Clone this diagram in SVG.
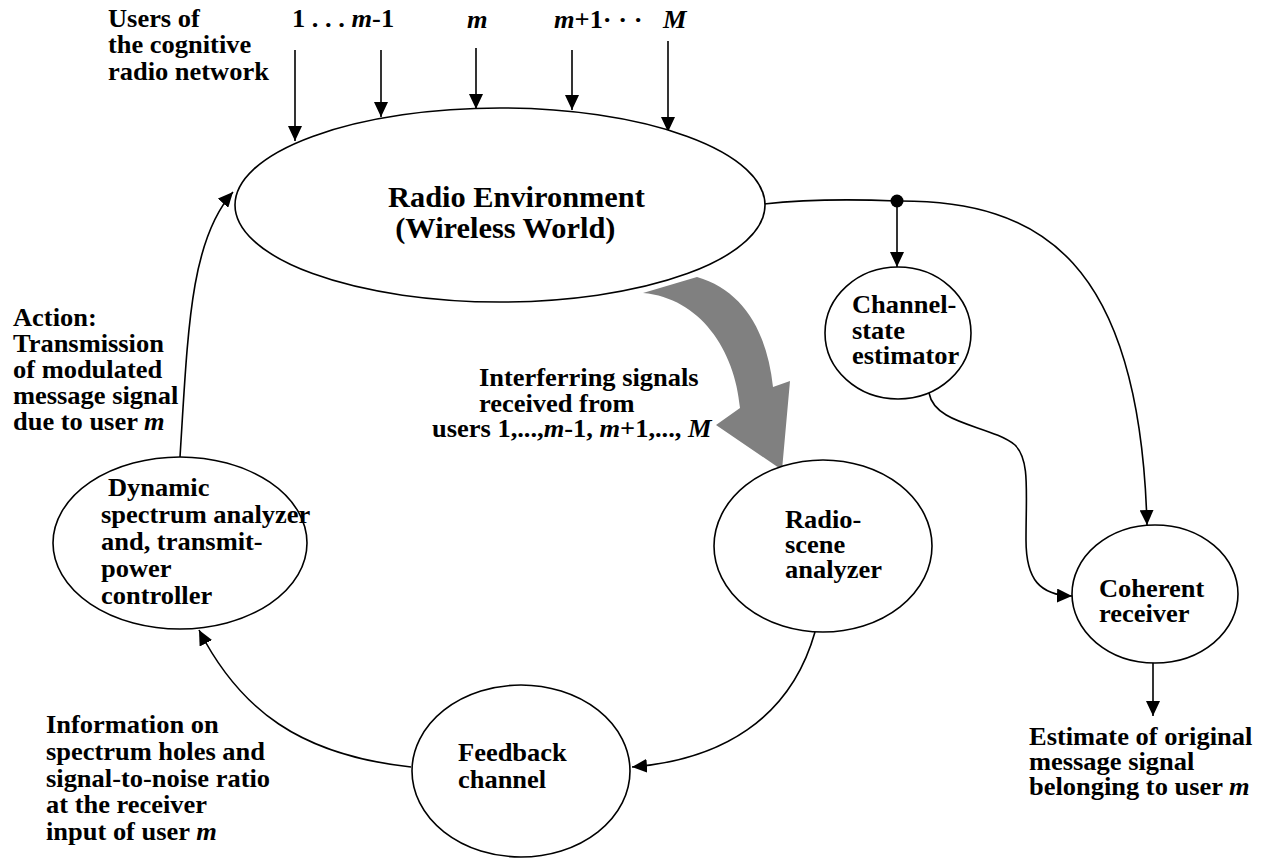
<svg xmlns="http://www.w3.org/2000/svg" width="1271" height="860" viewBox="0 0 1271 860">
<defs>
<style>
.t{font-family:"Liberation Serif","Times New Roman",serif;font-weight:bold;font-size:24.5px;fill:#000}
.big{font-size:29.5px}
.i{font-style:italic}
.ln{fill:none;stroke:#000;stroke-width:1.6}
.nd{fill:#fff;stroke:#000;stroke-width:1.6}
</style>
<marker id="ah" markerUnits="userSpaceOnUse" markerWidth="15" markerHeight="14" refX="15" refY="7" orient="auto">
<path d="M0,0 L15,7 L0,14 Z" fill="#000"/>
</marker>
</defs>
<rect width="1271" height="860" fill="#fff"/>

<g id="labels">
<text class="t" transform="translate(108,27) scale(1.08,1)"><tspan x="0">Users of</tspan><tspan x="0" dy="26.5">the cognitive</tspan><tspan x="0" dy="26.5">radio network</tspan></text>
<text class="t" transform="translate(292,27) scale(1.08,1)">1 . . . <tspan class="i">m</tspan>-1</text>
<text class="t" transform="translate(467,28) scale(1.08,1)"><tspan class="i">m</tspan></text>
<text class="t" transform="translate(554,28) scale(1.08,1)"><tspan class="i">m</tspan>+1· · ·</text>
<text class="t" transform="translate(663,28) scale(1.08,1)"><tspan class="i">M</tspan></text>
<text class="t" transform="translate(13,326) scale(1.08,1)"><tspan x="0">Action:</tspan><tspan x="0" dy="26">Transmission</tspan><tspan x="0" dy="26">of modulated</tspan><tspan x="0" dy="26">message signal</tspan><tspan x="0" dy="26">due to user <tspan class="i">m</tspan></tspan></text>
<text class="t" transform="translate(479,386) scale(1.08,1)"><tspan x="0">Interferring signals</tspan><tspan x="0" dy="26.5">received from</tspan><tspan x="-43.5" dy="24.5">users 1,...,<tspan class="i">m</tspan>-1, <tspan class="i">m</tspan>+1,..., <tspan class="i">M</tspan></tspan></text>
<text class="t" transform="translate(46,733) scale(1.08,1)"><tspan x="0">Information on</tspan><tspan x="0" dy="26.8">spectrum holes and</tspan><tspan x="0" dy="26.8">signal-to-noise ratio</tspan><tspan x="0" dy="26.8">at the receiver</tspan><tspan x="0" dy="26.8">input of user <tspan class="i">m</tspan></tspan></text>
<text class="t" transform="translate(1029,745) scale(1.08,1)"><tspan x="0">Estimate of original</tspan><tspan x="0" dy="25">message signal</tspan><tspan x="0" dy="25">belonging to user <tspan class="i">m</tspan></tspan></text>
</g>

<g id="connectors">
<line class="ln" x1="295" y1="50" x2="295" y2="141" marker-end="url(#ah)"/>
<line class="ln" x1="381" y1="50" x2="381" y2="117" marker-end="url(#ah)"/>
<line class="ln" x1="476" y1="48" x2="476" y2="109" marker-end="url(#ah)"/>
<line class="ln" x1="572" y1="50" x2="572" y2="110" marker-end="url(#ah)"/>
<line class="ln" x1="668" y1="41" x2="668" y2="132" marker-end="url(#ah)"/>
<path class="ln" d="M180,457 C188,330 190,240 233,192" marker-end="url(#ah)"/>
<path class="ln" d="M411,767 C300,755 240,710 199,630" marker-end="url(#ah)"/>
<path class="ln" d="M815,632 C790,720 720,760 632,767" marker-end="url(#ah)"/>
<path class="ln" d="M764,204 C800,200 850,199 897,201"/>
<circle cx="897" cy="201" r="6.5" fill="#000"/>
<line class="ln" x1="897" y1="205" x2="897" y2="267" marker-end="url(#ah)"/>
<path class="ln" d="M897,201 C1040,200 1140,260 1147,525" marker-end="url(#ah)"/>
<path class="ln" d="M929,393 C935,425 990,425 1015,445 C1030,460 1026,490 1026,540 C1026,580 1040,595 1072,596" marker-end="url(#ah)"/>
<line class="ln" x1="1153" y1="663" x2="1153" y2="716" marker-end="url(#ah)"/>
<path d="M643,293 L697,277 C742,290 767,330 773,387 L790,381 L782,470 L716,425 L740,408 C735,350 700,298 643,293 Z" fill="#808080"/>
</g>

<g id="radio-environment">
<ellipse class="nd" cx="500" cy="205" rx="265" ry="97" fill="none"/>
<text class="t big" transform="translate(388,207) scale(1.03,1)"><tspan x="0">Radio Environment</tspan><tspan x="7" dy="31">(Wireless World)</tspan></text>
</g>

<g id="dynamic-spectrum-analyzer">
<ellipse class="nd" cx="180" cy="543" rx="127" ry="86" fill="none"/>
<text class="t" transform="translate(101,496) scale(1.08,1)"><tspan x="6.5">Dynamic</tspan><tspan x="0" dy="27">spectrum analyzer</tspan><tspan x="0" dy="27">and, transmit-</tspan><tspan x="0" dy="27">power</tspan><tspan x="0" dy="27">controller</tspan></text>
</g>

<g id="radio-scene-analyzer">
<ellipse class="nd" cx="823" cy="546" rx="109" ry="86" fill="none"/>
<text class="t" transform="translate(785,528) scale(1.08,1)"><tspan x="0">Radio-</tspan><tspan x="0" dy="25">scene</tspan><tspan x="0" dy="25">analyzer</tspan></text>
</g>

<g id="feedback-channel">
<ellipse class="nd" cx="521" cy="771" rx="109" ry="86" fill="none"/>
<text class="t" transform="translate(458,761) scale(1.08,1)"><tspan x="0">Feedback</tspan><tspan x="0" dy="27">channel</tspan></text>
</g>

<g id="channel-state-estimator">
<ellipse class="nd" cx="898" cy="333" rx="73" ry="66" fill="none"/>
<text class="t" transform="translate(852,313) scale(1.08,1)"><tspan x="0">Channel-</tspan><tspan x="0" dy="26">state</tspan><tspan x="0" dy="25">estimator</tspan></text>
</g>

<g id="coherent-receiver">
<ellipse class="nd" cx="1155" cy="594" rx="83" ry="69" fill="none"/>
<text class="t" transform="translate(1099,597) scale(1.08,1)"><tspan x="0">Coherent</tspan><tspan x="0" dy="25">receiver</tspan></text>
</g>
</svg>
